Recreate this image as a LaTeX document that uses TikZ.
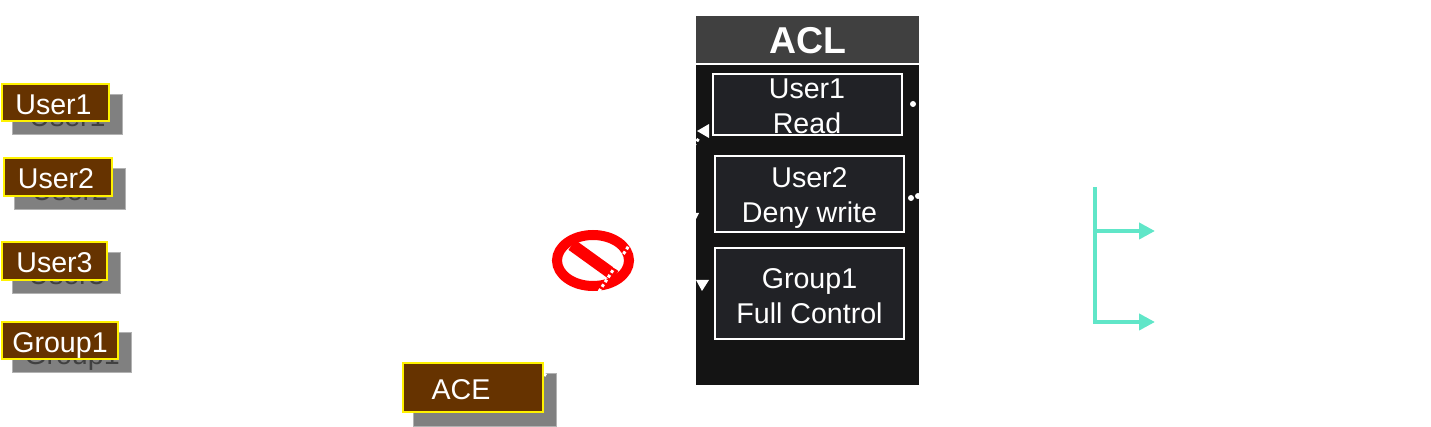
\documentclass[tikz,border=0pt]{standalone}
\usepackage{fontspec}
\setmainfont{Liberation Sans}
\usetikzlibrary{arrows.meta}
\definecolor{brownbox}{HTML}{663300}
\definecolor{panelbody}{HTML}{141414}
\definecolor{panelhead}{HTML}{404040}
\definecolor{entrybox}{HTML}{212226}
\definecolor{shadowbox}{HTML}{808080}
\definecolor{treeline}{HTML}{60E6C8}
\tikzset{
  labelbox/.style={draw=yellow,line width=1.2pt,fill=brownbox,text=white,inner sep=0pt,text height=11.6pt,text depth=0pt,font=\fontsize{14.3}{17}\selectfont},
  shadow/.style={draw=black!30,line width=.5pt,fill=shadowbox,text=black!75,inner sep=0pt,text height=11.6pt,text depth=0pt,font=\fontsize{14.3}{17}\selectfont},
  entry/.style={draw=white,line width=1pt,fill=entrybox,text=white,inner sep=0pt,align=center,minimum width=94.5pt,font=\fontsize{14.3}{17.5}\selectfont},
  branch/.style={treeline,line width=2.2pt},
  scrap/.style={white,line width=1.5pt,dash pattern=on 1.5pt off 1.3pt}
}
\begin{document}
\begin{tikzpicture}[x=.5pt,y=-.5pt]
\useasboundingbox (0,0) rectangle (1431,427);
% shadows behind the labels
\node[shadow,minimum width=55pt,minimum height=20pt] (shadeA) at (67.5,114.5) {User1};
\node[shadow,minimum width=55.5pt,minimum height=20.5pt] (shadeB) at (70,189) {User2};
\node[shadow,minimum width=54pt,minimum height=20.5pt] (shadeC) at (66.5,273) {User3};
\node[shadow,minimum width=59.5pt,minimum height=20pt] (shadeD) at (72,352.5) {Group1};
\node[shadow,minimum width=71.5pt,minimum height=26.5pt] (shadeE) at (485,400) {};
% ACL panel
\node[fill=panelhead,inner sep=0pt,minimum width=111.5pt,minimum height=23.5pt,text=white,text height=14.4pt,text depth=0pt,font=\fontsize{18.7}{20}\selectfont\bfseries] (aclHead) at (807.5,39.5) {ACL};
\node[fill=panelbody,inner sep=0pt,minimum width=111.5pt,minimum height=160pt] (aclBody) at (807.5,225) {};
% no entry sign
\draw[red,line width=5pt] (593,260.5) ellipse[x radius=36,y radius=25.5];
\draw[red,line width=6pt] (572,245) -- (615,276);
% what is left of the dotted arrows
\coordinate (aceOut) at (544,376);
\coordinate (aclIn) at (699,138);
\draw[scrap] (aceOut) -- (aclIn);
\fill[white] (697,131) -- (709,124) -- (709,138) -- cycle;
\fill[white] (696,213) -- (699,213) -- (696,219) -- cycle;
\fill[white] (696,280) -- (709,280) -- (702,291) -- cycle;
\foreach \x/\y in {913/104,911/198,918/196}
  \fill[white] (\x,\y) circle[radius=3];
% labels
\node[labelbox,minimum width=53.5pt,minimum height=18.5pt] (userA) at (55.5,102.5) {User1\kern2pt};
\node[labelbox,minimum width=54pt,minimum height=19pt] (userB) at (58,177) {User2\kern2pt};
\node[labelbox,minimum width=52.5pt,minimum height=19pt] (userC) at (54.5,261) {User3};
\node[labelbox,minimum width=58pt,minimum height=18.5pt] (groupA) at (60,340.5) {Group1};
\node[labelbox,minimum width=70pt,minimum height=24.5pt] (ace) at (473,387.5) {ACE\kern12pt};
% ACL entries
\node[entry,minimum height=30.5pt,text height=28.7pt] (entryA) at (807,104.5) {User1\\Read};
\node[entry,minimum height=38pt,text height=31.7pt] (entryB) at (809.5,194) {User2\\Deny write};
\node[entry,minimum height=45.5pt,text height=29.7pt] (entryC) at (809.5,293.5) {Group1\\Full Control};
% tree of arrows
\coordinate (treeTop) at (1095,187);
\coordinate (treeMid) at (1095,231);
\coordinate (treeEnd) at (1095,322);
\coordinate (tipA) at (1155,231);
\coordinate (tipB) at (1155,322);
\draw[branch,-{Triangle[length=8pt,width=8pt]}] (treeTop) -- (treeEnd) -- (tipB);
\draw[branch,-{Triangle[length=8pt,width=8pt]}] (treeMid) -- (tipA);
\end{tikzpicture}
\end{document}
